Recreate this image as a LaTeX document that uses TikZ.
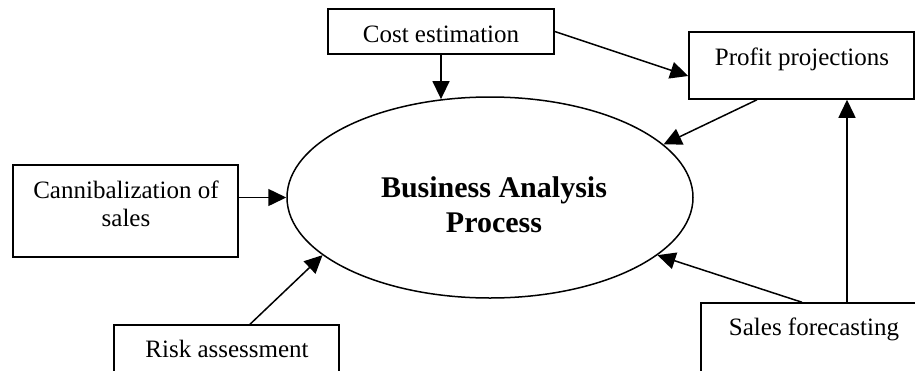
\documentclass[tikz,border=0pt]{standalone}
\usepackage{fontspec}
\setmainfont{Liberation Serif}
\usetikzlibrary{shapes.geometric,arrows.meta}

\tikzset{
	box/.style={draw,rectangle,inner sep=0pt},
	boxtext/.style={font=\fontsize{12.5}{14}\selectfont,inner sep=0pt},
	flow/.style={-{Triangle[length=9pt,width=8.5pt]}}
}
\newcommand\labelbox[5]{
		\node (#1) at ({(#2+#4)/2},{(#3+#5)/2}) [box,minimum width=(#4-#2)*0.5pt,minimum height=(#5-#3)*0.5pt] {};
	}

\begin{document}
\begin{tikzpicture}[x=0.5pt,y=-0.5pt,line width=0.75pt]
		\useasboundingbox (0,0) rectangle (915,370);
	
		% draw central process
		\node (bap) at (490,197.5) [ellipse,draw,inner sep=0pt,minimum width=203pt,minimum height=100.5pt] {};
		\node (bap-txt) at (494,205) [align=center,inner sep=0pt,font=\fontsize{15}{17.5}\selectfont\bfseries] {Business Analysis\\Process};
	
		% draw input boxes
		\labelbox{cost}{328}{9}{554}{54}
		\labelbox{profit}{689}{32}{914}{99}
		\labelbox{cann}{13}{165}{238}{257}
		\labelbox{risk}{114}{325}{339}{400}
		\labelbox{sales}{701}{303}{993}{400}
	
		% draw text nodes
		\node (cost-txt) at (441,42) [boxtext,anchor=base] {Cost estimation};
		\node (profit-txt) at (802,65) [boxtext,anchor=base] {Profit projections};
		\node (cann-txt) at (126,204) [boxtext,align=center] {Cannibalization of\\sales};
		\node (risk-txt) at (227,357) [boxtext,anchor=base] {Risk assessment};
		\node (sales-txt) at (814,335) [boxtext,anchor=base] {Sales forecasting};
	
		% draw arrows
		\draw[flow] (cost.south) -- (cost.south |- bap.116.7);
		\draw[flow] (cost.east) -- ([yshift=-5.25pt]profit.west);
		\draw[flow] ([xshift=-22.25pt]profit.south) -- (bap.17);
		\draw[flow] (sales.north) -- (sales.north |- profit.south);
		\draw[flow] ([xshift=-22.5pt]sales.north) -- (bap.-19);
		\draw[flow] (cann.east |- bap.west) -- (bap.west);
		\draw[flow] ([xshift=11.75pt]risk.north) -- (bap.199);
	\end{tikzpicture}
\end{document}
